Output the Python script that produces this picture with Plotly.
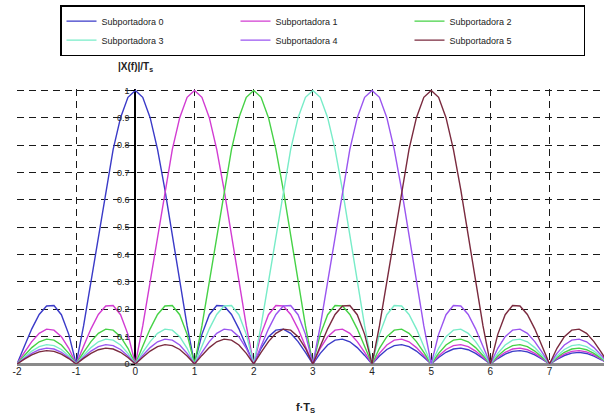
import plotly.graph_objects as go

# Magnitude profile |X(f)|/Ts vs. offset from subcarrier centre (offset step 0.125, offsets 0..8)
offset_step = 0.125
lobe_profile = [
    1.0, 0.9745, 0.9003, 0.7842, 0.6366, 0.4705, 0.3001, 0.1392,
    0.0, 0.1083, 0.1801, 0.2139, 0.2122, 0.1810, 0.1286, 0.0650,
    0.0, 0.0573, 0.1000, 0.1238, 0.1273, 0.1120, 0.0818, 0.0424,
    0.0, 0.0390, 0.0693, 0.0871, 0.0909, 0.0811, 0.0600, 0.0314,
    0.0, 0.0295, 0.0530, 0.0672, 0.0707, 0.0636, 0.0474, 0.0250,
    0.0, 0.0238, 0.0429, 0.0547, 0.0579, 0.0523, 0.0391, 0.0207,
    0.0, 0.0199, 0.0360, 0.0461, 0.0490, 0.0444, 0.0333, 0.0177,
    0.0, 0.0171, 0.0310, 0.0399, 0.0424, 0.0386, 0.0290, 0.0155,
    0.0,
]
subcarrier_centres = [0, 1, 2, 3, 4, 5]
series_names = ["Subportadora 0", "Subportadora 1", "Subportadora 2",
                "Subportadora 3", "Subportadora 4", "Subportadora 5"]
series_colors = ["#3a3ac8", "#d23cd2", "#46d246", "#78ecc8", "#9a55f0", "#7a2a3e"]
x_ticks = [-2, -1, 0, 1, 2, 3, 4, 5, 6, 7, 8]
y_ticks = [0, 0.1, 0.2, 0.3, 0.4, 0.5, 0.6, 0.7, 0.8, 0.9, 1]
y_ticktext = ["0", "0.1", "0.2", "0.3", "0.4", "0.5", "0.6", "0.7", "0.8", "0.9", "1"]

x_min, x_max = -2, 7.92

# symmetric profile (negative offsets mirrored)
n = len(lobe_profile)
offsets = [-(n - 1 - i) * offset_step for i in range(n - 1)] + [i * offset_step for i in range(n)]
values = lobe_profile[:0:-1] + lobe_profile

fig = go.Figure()
for name, c, col in zip(series_names, subcarrier_centres, series_colors):
    xs, ys = [], []
    for o, v in zip(offsets, values):
        x = c + o
        if x_min - 0.2 <= x <= x_max + 0.2:
            xs.append(x)
            ys.append(v)
    fig.add_trace(go.Scatter(x=xs, y=ys, mode="lines", name=name,
                             line=dict(color=col, width=1.4)))

fig.update_layout(
    width=605, height=419,
    margin=dict(l=17, r=1, t=89, b=55, autoexpand=False),
    paper_bgcolor="white", plot_bgcolor="white",
    font=dict(family="Liberation Sans, Arial, sans-serif", size=10, color="#222"),
    showlegend=True,
    legend=dict(
        orientation="h", x=(60 - 17) / 587, xanchor="left", y=1.305, yanchor="top",
        bordercolor="black", borderwidth=1.5, bgcolor="white",
        entrywidth=129, entrywidthmode="pixels",
        font=dict(size=9, color="#222"),
        tracegroupgap=0, itemwidth=30,
    ),
    xaxis=dict(
        range=[x_min, x_max], tickvals=x_ticks, ticktext=[str(t) for t in x_ticks],
        showgrid=True, gridcolor="#1a1a1a", griddash="7px,5px", gridwidth=1.3,
        zeroline=True, zerolinecolor="black", zerolinewidth=1.5,
        showline=False, ticks="", tickfont=dict(size=10, color="#222"),
        automargin=False,
    ),
    yaxis=dict(
        range=[0, 1.005], tickvals=y_ticks, ticktext=y_ticktext,
        showgrid=True, gridcolor="#1a1a1a", griddash="7px,5px", gridwidth=1.3,
        zeroline=True, zerolinecolor="#8a8a8a", zerolinewidth=3,
        showline=False, anchor="free", position=(0 - x_min) / (x_max - x_min),
        ticks="outside", ticklen=4, tickcolor="black",
        tickfont=dict(size=9, color="#222"),
        automargin=False,
    ),
    annotations=[
        dict(x=0, y=1.0, xref="x", yref="paper", yanchor="bottom", yshift=14,
             text="<b>|X(f)|/T<sub>s</sub></b>", showarrow=False,
             font=dict(size=10, color="#222")),
        dict(x=(305 - 17) / 587, y=0, xref="paper", yref="paper", yanchor="middle",
             yshift=-44, text="<b>f·T<sub>S</sub></b>", showarrow=False,
             font=dict(size=11, color="#222")),
    ],
)

fig.write_html("out.html", config={"displayModeBar": False},
               post_script="document.body.style.margin='0';")
